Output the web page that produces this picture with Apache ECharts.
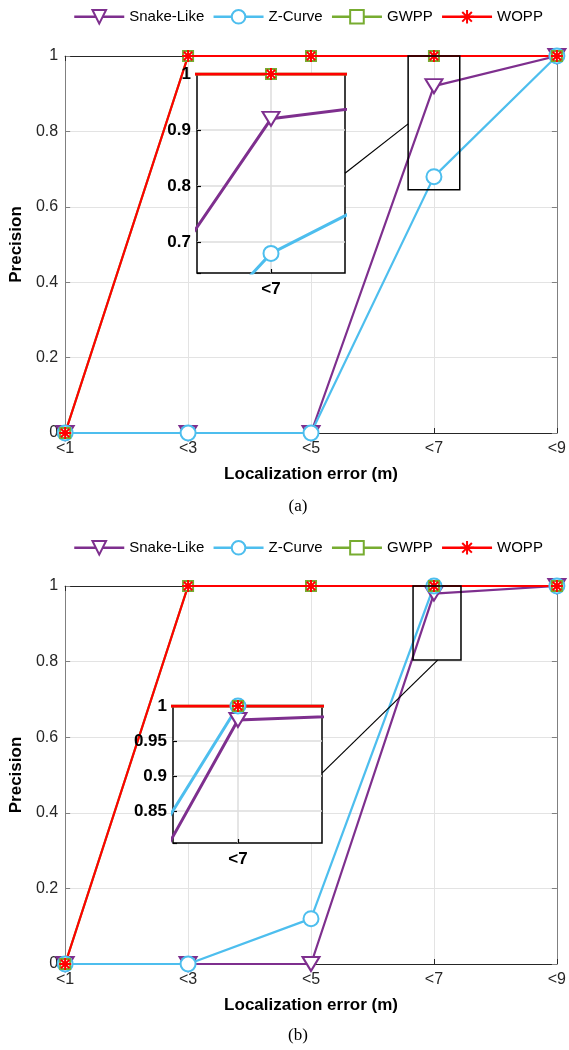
<!DOCTYPE html>
<html><head><meta charset="utf-8">
<script src="https://cdn.jsdelivr.net/npm/echarts@6/dist/echarts.min.js"></script>
<style>html,body{margin:0;padding:0;background:#fff}#c{width:569px;height:1050px}</style>
</head><body><div id="c"></div>
<script>
// ---- data ----
const xLabels = ['<1', '<3', '<5', '<7', '<9'];
const seriesNames = ['Snake-Like', 'Z-Curve', 'GWPP', 'WOPP'];
const snakeA = [0, 0, 0, 0.92, 1];
const zcurveA = [0, 0, 0, 0.68, 1];
const gwppA = [0, 1, 1, 1, 1];
const woppA = [0, 1, 1, 1, 1];
const snakeB = [0, 0, 0, 0.98, 1];
const zcurveB = [0, 0, 0.12, 1, 1];
const gwppB = [0, 1, 1, 1, 1];
const woppB = [0, 1, 1, 1, 1];
// zoomed windows (category index range, value range)
const insetAX = [2.79, 3.21], insetAY = [0.645, 1];
const insetBX = [2.83, 3.22], insetBY = [0.804, 1];
// connector anchors: [main point], [inset point]
const connA = [[2.79, 0.82], [3.21, 0.823]];
const connB = [[3.03, 0.804], [3.22, 0.904]];

// ---- styles ----
const FONT = '"Liberation Sans", Arial, Helvetica, sans-serif';
const colors = {'Snake-Like': '#7E2F8E', 'Z-Curve': '#4DBEEE', 'GWPP': '#77AC30', 'WOPP': '#FF0000'};
const ASTER = 'path://M0,-10L0,10M-10,0L10,0M-7.07,-7.07L7.07,7.07M-7.07,7.07L7.07,-7.07';
const symbols = {
  'Snake-Like': {symbol: 'emptyTriangle', symbolSize: [17, 14], symbolRotate: 180},
  'Z-Curve': {symbol: 'emptyCircle', symbolSize: 15, symbolRotate: 0},
  'GWPP': {symbol: 'emptyRect', symbolSize: 10, symbolRotate: 0},
  'WOPP': {symbol: ASTER, symbolSize: 12, symbolRotate: 0}
};

function mkSeries(name, vals, xi, yi, inset) {
  const c = colors[name];
  const s = symbols[name];
  return {
    type: 'line', name: name, xAxisIndex: xi, yAxisIndex: yi,
    data: vals.map((v, i) => [i, v]),
    symbol: s.symbol, symbolSize: s.symbolSize, symbolRotate: s.symbolRotate,
    symbolKeepAspect: false, showAllSymbol: true,
    lineStyle: {color: c, width: inset ? 3 : 2.2},
    itemStyle: {color: c, borderColor: c, borderWidth: 2},
    emphasis: {disabled: true},
    z: inset ? 12 : 2, clip: true, animation: false
  };
}

function mainX(gi, pos) {
  const top = pos === 'top';
  return {
    gridIndex: gi, type: 'value', min: 0, max: 4, interval: 1, position: pos,
    axisLine: {show: true, onZero: false, lineStyle: {color: '#262626', width: 1}},
    axisTick: {show: true, inside: true, length: 5, lineStyle: {color: '#262626'}},
    axisLabel: {show: !top, margin: 8, fontFamily: FONT, fontSize: 16, color: '#262626',
      formatter: v => xLabels[Math.round(v)]},
    splitLine: {show: !top, showMinLine: false, showMaxLine: false, lineStyle: {color: '#e3e3e3', width: 1}},
    name: top ? '' : 'Localization error (m)', nameLocation: 'middle', nameGap: 33,
    nameTextStyle: {fontFamily: FONT, fontSize: 17, fontWeight: 'bold', color: '#000'}
  };
}
function mainY(gi, pos) {
  const right = pos === 'right';
  return {
    gridIndex: gi, type: 'value', min: 0, max: 1, interval: 0.2, position: pos,
    axisLine: {show: true, onZero: false, lineStyle: {color: '#808080', width: 1}},
    axisTick: {show: true, inside: true, length: 5, lineStyle: {color: '#808080'}},
    axisLabel: {show: !right, margin: 7, fontFamily: FONT, fontSize: 16, color: '#262626'},
    splitLine: {show: !right, showMinLine: false, showMaxLine: false, lineStyle: {color: '#e3e3e3', width: 1}},
    name: right ? '' : 'Precision', nameLocation: 'middle', nameGap: 38, nameRotate: 90,
    nameTextStyle: {fontFamily: FONT, fontSize: 17, fontWeight: 'bold', color: '#000'}
  };
}
function insetX(gi, rng) {
  return {
    gridIndex: gi, type: 'value', min: rng[0], max: rng[1], splitNumber: 1, z: 11,
    axisLine: {show: false, onZero: false},
    axisTick: {show: true, inside: true, length: 4, lineStyle: {color: '#000', width: 1.2}},
    axisLabel: {margin: 8, fontFamily: FONT, fontSize: 17, fontWeight: 'bold', color: '#000',
      showMinLabel: false, showMaxLabel: false,
      formatter: v => Math.abs(v - 3) < 1e-6 ? xLabels[3] : ''},
    splitLine: {show: true, showMinLine: false, showMaxLine: false, lineStyle: {color: '#dcdcdc', width: 1.5}}
  };
}
function insetY(gi, rng, step, split) {
  return {
    gridIndex: gi, type: 'value', min: rng[0], max: rng[1], splitNumber: split, z: 11,
    axisLine: {show: false, onZero: false},
    axisTick: {show: true, inside: true, length: 4, lineStyle: {color: '#000', width: 1.2}},
    axisLabel: {margin: 6, fontFamily: FONT, fontSize: 17, fontWeight: 'bold', color: '#000',
      formatter: v => { const r = Math.round(v / step) * step; return Math.abs(v - r) < 1e-6 ? String(+r.toFixed(2)) : ''; }},
    splitLine: {show: true, showMinLine: false, showMaxLine: false, lineStyle: {color: '#dcdcdc', width: 1.5}}
  };
}

const legendCommon = {
  left: 68, itemWidth: 50, itemHeight: 17, itemGap: 8, selectedMode: false,
  lineStyle: {width: 2.5},
  textStyle: {fontFamily: FONT, fontSize: 15, color: '#000'}, data: seriesNames
};

const option = {
  animation: false,
  backgroundColor: '#fff',
  legend: [Object.assign({top: 4}, legendCommon), Object.assign({top: 535}, legendCommon)],
  grid: [
    {left: 64, top: 56, width: 493, height: 377, show: false, z: 0},
    {left: 197, top: 74, width: 148, height: 199, show: true, backgroundColor: '#fff', borderColor: '#000', borderWidth: 1.5, z: 10},
    {left: 64, top: 586, width: 493, height: 378, show: false, z: 0},
    {left: 173, top: 706, width: 149, height: 137, show: true, backgroundColor: '#fff', borderColor: '#000', borderWidth: 1.5, z: 10}
  ],
  xAxis: [mainX(0, 'bottom'), mainX(0, 'top'), insetX(1, insetAX), mainX(2, 'bottom'), mainX(2, 'top'), insetX(3, insetBX)],
  yAxis: [mainY(0, 'left'), mainY(0, 'right'), insetY(1, insetAY, 0.1, 4), mainY(2, 'left'), mainY(2, 'right'), insetY(3, insetBY, 0.05, 4)],
  series: [
    mkSeries('Snake-Like', snakeA, 0, 0, false),
    mkSeries('Z-Curve', zcurveA, 0, 0, false),
    mkSeries('GWPP', gwppA, 0, 0, false),
    mkSeries('WOPP', woppA, 0, 0, false),
    mkSeries('Snake-Like', snakeA, 2, 2, true),
    mkSeries('Z-Curve', zcurveA, 2, 2, true),
    mkSeries('GWPP', gwppA, 2, 2, true),
    mkSeries('WOPP', woppA, 2, 2, true),
    mkSeries('Snake-Like', snakeB, 3, 3, false),
    mkSeries('Z-Curve', zcurveB, 3, 3, false),
    mkSeries('GWPP', gwppB, 3, 3, false),
    mkSeries('WOPP', woppB, 3, 3, false),
    mkSeries('Snake-Like', snakeB, 5, 5, true),
    mkSeries('Z-Curve', zcurveB, 5, 5, true),
    mkSeries('GWPP', gwppB, 5, 5, true),
    mkSeries('WOPP', woppB, 5, 5, true)
  ]
};

const chart = echarts.init(document.getElementById('c'));
chart.setOption(option);

function px(xi, yi, pt) { return chart.convertToPixel({xAxisIndex: xi, yAxisIndex: yi}, pt); }
function zoomRect(xi, yi, rx, ry) {
  const p1 = px(xi, yi, [rx[0], ry[1]]), p2 = px(xi, yi, [rx[1], ry[0]]);
  return {type: 'rect', z: 5, silent: true,
    shape: {x: p1[0], y: p1[1], width: p2[0] - p1[0], height: p2[1] - p1[1]},
    style: {fill: 'none', stroke: '#000', lineWidth: 1.5}};
}
function connector(mx, my, ix, iy, c) {
  const a = px(mx, my, c[0]), b = px(ix, iy, c[1]);
  return {type: 'line', z: 13, silent: true, shape: {x1: a[0], y1: a[1], x2: b[0], y2: b[1]},
    style: {stroke: '#000', lineWidth: 1.2}};
}
const capA = px(0, 0, [1.9, 0]), capB = px(3, 3, [1.9, 0]);
chart.setOption({graphic: [
  zoomRect(0, 0, insetAX, insetAY),
  zoomRect(3, 3, insetBX, insetBY),
  connector(0, 0, 2, 2, connA),
  connector(3, 3, 5, 5, connB),
  {type: 'text', z: 5, silent: true, x: 298, y: capA[1] + 74,
    style: {text: '(a)', font: '17px "Liberation Serif", "DejaVu Serif", serif', fill: '#000', textAlign: 'center', textVerticalAlign: 'middle'}},
  {type: 'text', z: 5, silent: true, x: 298, y: capB[1] + 72,
    style: {text: '(b)', font: '17px "Liberation Serif", "DejaVu Serif", serif', fill: '#000', textAlign: 'center', textVerticalAlign: 'middle'}}
]});
</script>
</body></html>
